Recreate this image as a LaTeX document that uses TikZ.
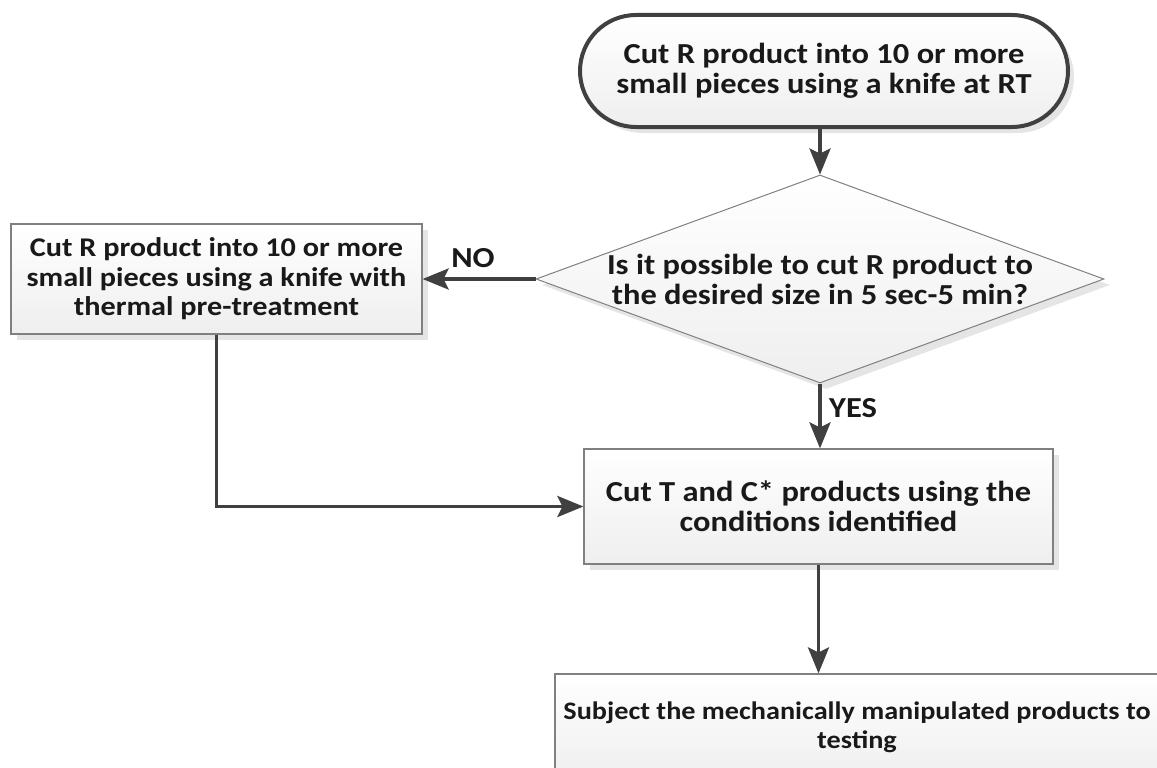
\documentclass[tikz,border=0pt]{standalone}
\usepackage{fontspec}
\setmainfont{Carlito}[FakeStretch=1.12]
\usetikzlibrary{shapes.geometric,shapes.misc,arrows.meta,shadows}
\definecolor{linegray}{HTML}{404040}
\definecolor{edgegray}{HTML}{808080}
\tikzset{
  base/.style={font=\fontsize{29}{30}\selectfont\bfseries, text=black!90, align=center,
    top color=white, bottom color=gray!13,
    drop shadow={shadow xshift=6pt, shadow yshift=-6pt, fill=gray!20, opacity=1}},
  procbox/.style={base, rectangle, draw=edgegray, line width=1.2pt, inner sep=0pt},
  termbox/.style={base, rounded rectangle, draw=linegray, line width=4pt, inner sep=0pt},
  decbox/.style={base, diamond, draw=edgegray, line width=1pt, inner sep=0pt, aspect=2.73},
  arr/.style={draw=linegray, line width=3.5pt, -{Stealth[length=26pt,width=21pt,inset=5pt]}},
  lbl/.style={font=\fontsize{29}{30}\selectfont\bfseries, text=black!90, inner sep=0pt}
}
\begin{document}
\begin{tikzpicture}[x=1pt,y=-1pt]
  \useasboundingbox (0,0) rectangle (1157,768);
  \clip (0,0) rectangle (1157,768);
  \node[termbox, minimum width=488pt, minimum height=112pt] (start) at (824,71)
    {Cut R product into 10 or more\\small pieces using a knife at RT};
  \node[decbox, minimum width=568pt, minimum height=208pt] (check) at (820,279)
    {Is it possible to cut R product to\\the desired size in 5 sec-5 min?};
  \node[procbox, minimum width=411pt, minimum height=110pt,
    font=\fontsize{27}{29.5}\selectfont\bfseries] (heat) at (216.5,279)
    {Cut R product into 10 or more\\small pieces using a knife with\\thermal pre-treatment};
  \node[procbox, minimum width=469pt, minimum height=115pt] (cutTC) at (818.5,506.5)
    {Cut T and C* products using the\\conditions identified};
  \node[procbox, minimum width=604pt, minimum height=106pt,
    font=\fontsize{25.2}{29}\selectfont\bfseries] (test) at (857,727)
    {Subject the mechanically manipulated products to\\testing};
  \node[lbl] (no) at (473,258) {NO};
  \node[lbl, anchor=west] (yes) at (829,408) {YES};
  \draw[arr] (start.south -| check.north) -- (check.north);
  \draw[arr] (check.west) -- (heat.east);
  \draw[arr] (check.south) -- (cutTC.north -| check.south);
  \draw[arr] (heat.south) |- (cutTC.west);
  \draw[arr] (cutTC.south) -- (cutTC.south |- test.north);
\end{tikzpicture}
\end{document}
